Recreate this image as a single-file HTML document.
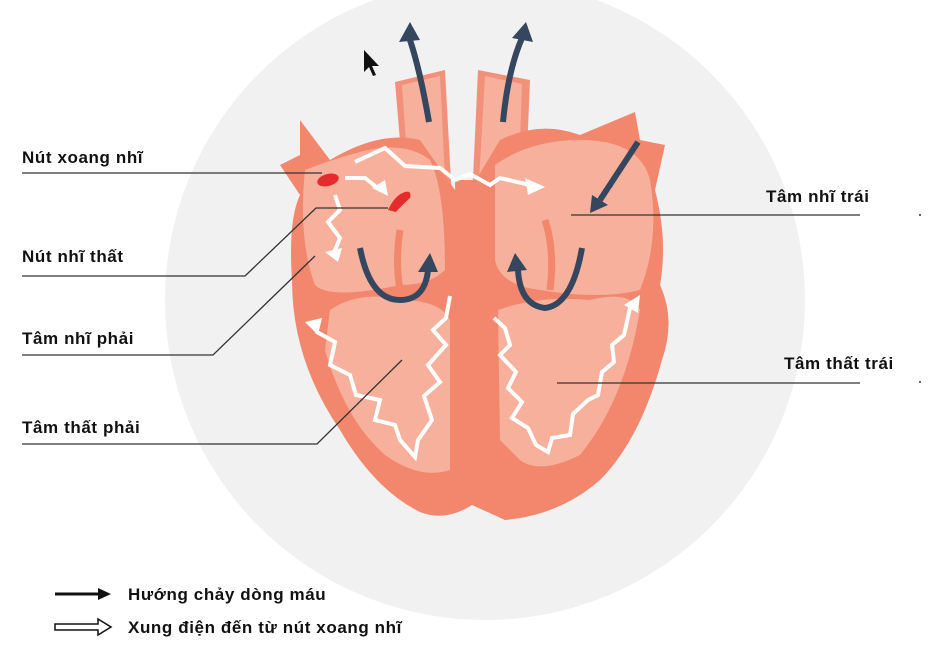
<!DOCTYPE html>
<html><head><meta charset="utf-8"><style>
html,body{margin:0;padding:0;background:#fff;}
svg{display:block;}
text{font-family:"Liberation Sans",sans-serif;font-weight:bold;fill:#111;}
</style></head><body>
<svg width="950" height="661" viewBox="0 0 950 661" xmlns="http://www.w3.org/2000/svg">
<circle cx="485" cy="300" r="320" fill="#F1F1F1"/>
<!-- vessels -->
<path d="M395,82 L445,70 L452,200 L405,200 Z" fill="#F2917A"/>
<path d="M402,85 L440,76 L446,200 L410,200 Z" fill="#F7B09C"/>
<path d="M478,70 L530,80 L525,200 L472,200 Z" fill="#F2917A"/>
<path d="M485,76 L522,84 L518,200 L478,200 Z" fill="#F7B09C"/>
<!-- heart body -->
<path d="M300,120 L330,160 Q380,130 420,140 L455,190 L470,190 L500,140 Q540,120 580,135 L635,112 L640,140 L665,145 L655,190 Q668,240 660,285 Q676,320 662,360 Q640,440 600,480 Q560,515 505,520 L472,505 Q445,522 420,512 Q375,490 340,430 Q292,360 292,280 Q288,220 300,195 L280,165 L300,155 Z" fill="#F2876D"/>
<!-- inner light chambers -->
<path d="M305,170 Q330,160 360,152 Q405,140 430,160 Q445,190 445,270 Q430,285 400,285 Q330,300 315,285 Q298,240 305,170 Z" fill="#F7B09C"/>
<path d="M330,310 Q360,290 400,300 Q440,300 450,320 L450,470 Q420,480 385,455 Q345,420 325,350 Z" fill="#F7B09C"/>
<path d="M495,165 Q530,140 580,140 Q640,140 650,180 Q660,240 640,290 Q600,300 540,290 Q500,285 495,260 Z" fill="#F7B09C"/>
<path d="M498,310 Q540,295 590,300 Q630,290 640,310 Q625,400 580,455 Q540,475 520,460 L500,440 Z" fill="#F7B09C"/>
<!-- septum -->
<path d="M455,180 L490,180 L495,500 L460,500 Z" fill="#F2876D"/>
<!-- valve flaps -->
<path d="M400,230 Q395,260 400,290" stroke="#F2876D" stroke-width="7" fill="none"/>
<path d="M545,220 Q555,250 550,290" stroke="#F2876D" stroke-width="7" fill="none"/>
<!-- nodes -->
<ellipse cx="328" cy="180" rx="11" ry="6" fill="#E52B2B" transform="rotate(-15 328 180)"/>
<path d="M388,210 Q395,195 405,192 Q412,190 410,198 Q402,205 396,212 Z" fill="#E52B2B"/>
<!-- dark blood arrows -->
<g stroke="#34475E" stroke-width="6" fill="none">
<path d="M429,122 Q420,70 410,40"/>
<path d="M503,122 Q508,70 522,38"/>
<path d="M638,142 L600,200"/>
<path d="M360,248 Q370,300 400,300 Q425,300 428,270"/>
<path d="M582,248 Q572,305 545,308 Q520,305 518,270"/>
</g>
<g fill="#34475E">
<polygon points="399,42 410,22 420,40"/>
<polygon points="512,38 526,22 533,42"/>
<polygon points="590,213 592,195 608,205"/>
<polygon points="418,272 430,253 438,272"/>
<polygon points="507,272 515,253 527,270"/>
</g>
<!-- white impulse arrows -->
<g stroke="#fff" stroke-width="4" fill="none" stroke-linejoin="miter">
<path d="M355,162 L385,148 L405,166 L440,168 L455,180 L470,174 L490,185 L500,178 L530,185"/>
<path d="M345,178 L365,178 L380,190"/>
<path d="M335,195 L340,210 L328,222 L340,238 L333,255"/>
<path d="M450,296 L446,318 L433,330 L446,345 L428,365 L440,382 L424,396 L432,420 L418,440 L415,457 L400,440 L395,425 L375,420 L380,400 L356,395 L350,375 L330,365 L335,342 L317,332 L315,325"/>
<path d="M494,318 L505,328 L510,345 L500,355 L516,372 L508,388 L522,402 L512,418 L528,428 L536,445 L548,452 L552,438 L570,435 L573,414 L588,400 L598,395 L602,372 L614,362 L612,345 L624,335 L630,308"/>
</g>
<g fill="#fff">
<polygon points="525,178 545,187 528,195"/>
<polygon points="372,188 388,196 385,180"/>
<polygon points="325,252 338,262 342,248"/>
<polygon points="305,322 322,318 318,335"/>
<polygon points="624,305 640,295 638,313"/>
</g>
<!-- cursor -->
<polygon points="364,50 364,72 369,67 373,76 376,75 372,66 379,66" fill="#111"/>
<!-- label lines -->
<g stroke="#333" stroke-width="1.3" fill="none">
<polyline points="22,173 322,173"/>
<polyline points="22,276 245,276 316,208 388,208"/>
<polyline points="22,355 213,355 315,256"/>
<polyline points="22,444 317,444 402,360"/>
<polyline points="571,215 860,215"/>
<polyline points="557,383 860,383"/>
</g>
<circle cx="920" cy="215" r="1" fill="#333"/>
<circle cx="920" cy="382" r="1" fill="#333"/>
<g font-size="17" letter-spacing="0.6">
<text x="22" y="163">Nút xoang nhĩ</text>
<text x="22" y="262">Nút nhĩ thất</text>
<text x="22" y="344">Tâm nhĩ phải</text>
<text x="22" y="433">Tâm thất phải</text>
<text x="766" y="202">Tâm nhĩ trái</text>
<text x="784" y="369">Tâm thất trái</text>
<text x="128" y="600">Hướng chảy dòng máu</text>
<text x="128" y="633">Xung điện đến từ nút xoang nhĩ</text>
</g>
<!-- legend arrows -->
<line x1="55" y1="594" x2="100" y2="594" stroke="#111" stroke-width="3"/>
<polygon points="98,588 111,594 98,600" fill="#111"/>
<path d="M55,624 L98,624 L98,619 L111,627 L98,635 L98,630 L55,630 Z" fill="#fff" stroke="#111" stroke-width="1.5"/>
</svg>
</body></html>
